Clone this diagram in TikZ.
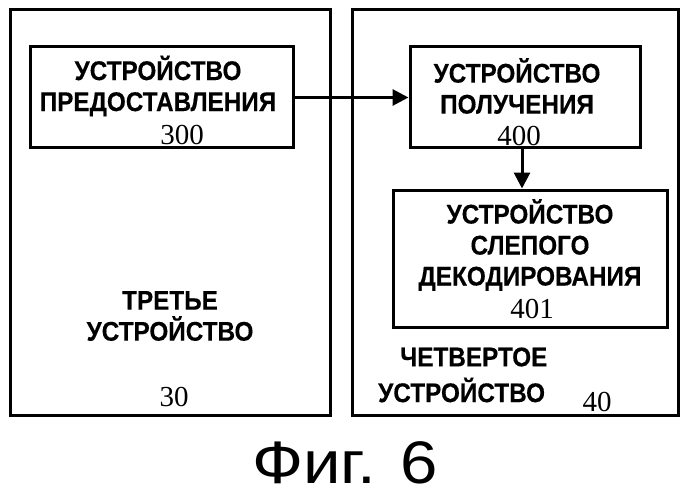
\documentclass[tikz,border=0pt]{standalone}
\usepackage{fontspec}
\setmainfont{Liberation Sans}
\newfontfamily\numf{Liberation Serif}
\newfontfamily\lblf[FakeStretch=0.9,FakeBold=0.3]{Liberation Sans Bold}
\newfontfamily\figf[FakeStretch=1.12]{Liberation Sans}
\usetikzlibrary{arrows.meta}
\begin{document}
\begin{tikzpicture}[x=1pt,y=-1pt,
  box/.style={draw,line width=3pt},
  lbl/.style={font=\fontsize{27}{31}\selectfont\lblf,align=center,inner sep=0pt},
  num/.style={font=\fontsize{29}{31}\selectfont\numf,inner sep=0pt},
  arr/.style={line width=3pt,-{Triangle[length=16pt,width=16pt]}}]
\useasboundingbox (0,0) rectangle (688,500);
\draw[box] (10,10) rectangle (330,415);
\draw[box] (352,10) rectangle (678,415);
\node[box,minimum width=263pt,minimum height=101pt] (b300) at (161.5,97.5) {};
\node[box,minimum width=230pt,minimum height=101pt] (b400) at (525,97.5) {};
\node[box,minimum width=274pt,minimum height=137pt] (b401) at (530,258.5) {};
\node[lbl] (t300) at (158,86) {УСТРОЙСТВО\\ПРЕДОСТАВЛЕНИЯ};
\node[num] (n300) at (182,135) {300};
\node[lbl] (t400) at (517,86) {УСТРОЙСТВО\\ПОЛУЧЕНИЯ};
\node[num] (n400) at (519,136) {400};
\node[lbl] (t401) at (530,245) {УСТРОЙСТВО\\СЛЕПОГО\\ДЕКОДИРОВАНИЯ};
\node[num] (n401) at (532,309) {401};
\node[lbl] (t30) at (170,316) {ТРЕТЬЕ\\УСТРОЙСТВО};
\node[num] (n30) at (174,397) {30};
\node[lbl,align=left,anchor=west] (t40a) at (400,357) {ЧЕТВЕРТОЕ};
\node[lbl,align=left,anchor=west] (t40b) at (378,390) {УСТРОЙСТВО};
\node[num] (n40) at (597,402) {40};
\draw[arr] (b300.east) -- (b400.west);
\draw[arr] (b400.south -| 522,0) -- (b401.north -| 522,0);
\node[font=\fontsize{60}{62}\selectfont\figf,inner sep=0pt] (fig) at (345,463) {Фиг. 6};
\end{tikzpicture}
\end{document}
